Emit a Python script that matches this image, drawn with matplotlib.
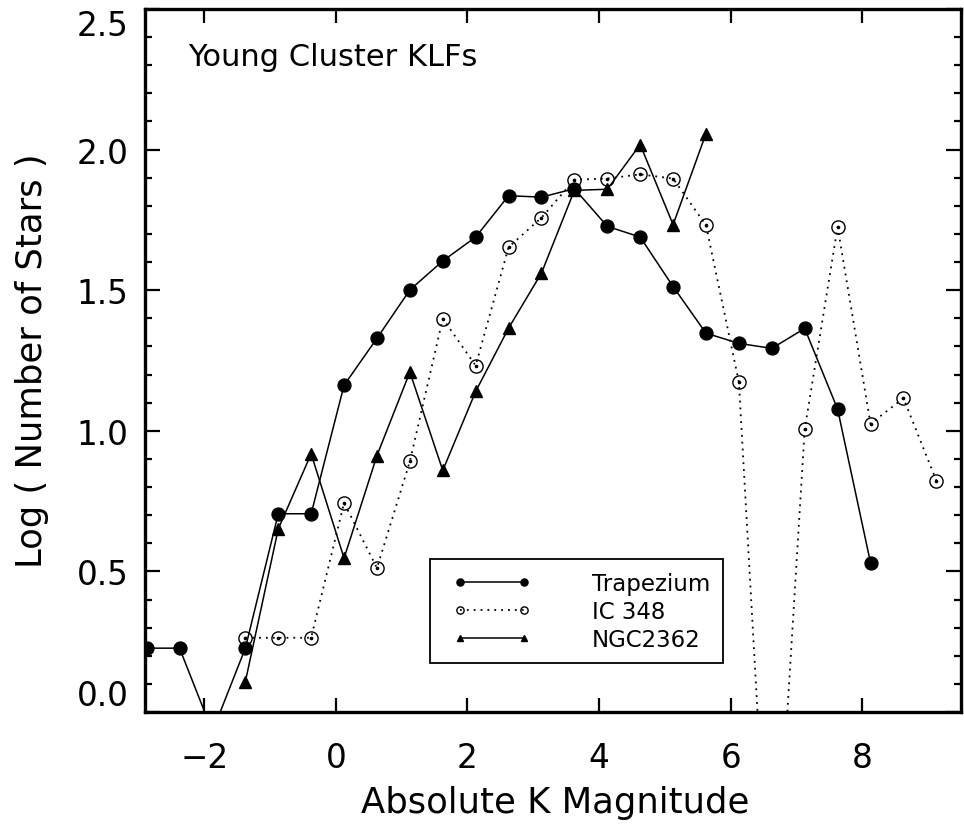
# young cluster KLFs - log counts vs absolute K magnitude
import matplotlib
matplotlib.use("Agg")
import matplotlib.pyplot as plt
from matplotlib.ticker import MultipleLocator
from matplotlib.legend_handler import HandlerLine2D

# Trapezium (filled circles, solid line)
trap_mag = [-2.875, -2.375, -1.875, -1.375, -0.875, -0.375, 0.125, 0.625,
            1.125, 1.625, 2.125, 2.625, 3.125, 3.625, 4.125, 4.625,
            5.125, 5.625, 6.125, 6.625, 7.125, 7.625, 8.125]
trap_log = [0.227, 0.227, -0.07, 0.227, 0.705, 0.705, 1.162, 1.329,
            1.501, 1.604, 1.689, 1.836, 1.831, 1.861, 1.727, 1.689,
            1.513, 1.347, 1.311, 1.293, 1.364, 1.077, 0.531]

# IC 348 (open circles, dotted line)
ic_mag = [-1.375, -0.875, -0.375, 0.125, 0.625, 1.125, 1.625, 2.125,
          2.625, 3.125, 3.625, 4.125, 4.625, 5.125, 5.625, 6.125,
          6.625, 7.125, 7.625, 8.125, 8.625, 9.125]
ic_log = [0.264, 0.264, 0.264, 0.744, 0.512, 0.891, 1.399, 1.232,
          1.653, 1.758, 1.893, 1.897, 1.912, 1.897, 1.731, 1.173,
          -0.9, 1.005, 1.725, 1.025, 1.116, 0.823]

# NGC2362 (filled triangles, solid line)
ngc_mag = [-1.375, -0.875, -0.375, 0.125, 0.625, 1.125, 1.625, 2.125,
           2.625, 3.125, 3.625, 4.125, 4.625, 5.125, 5.625]
ngc_log = [0.108, 0.651, 0.918, 0.547, 0.912, 1.209, 0.859, 1.140,
           1.365, 1.561, 1.855, 1.859, 2.018, 1.733, 2.057]

x_ticks = [-2, 0, 2, 4, 6, 8]
y_ticks = [0.0, 0.5, 1.0, 1.5, 2.0, 2.5]

plt.rcParams["font.family"] = ["DejaVu Sans"]

W, H = 964, 828
fig = plt.figure(figsize=(W / 100, H / 100), dpi=100)
ax = fig.add_axes([145 / W, 115 / H, 816 / W, 703 / H])

l_trap, = ax.plot(trap_mag, trap_log, color="black", lw=1.1, marker="o",
                  ms=9.3, mfc="black", mec="black", label="Trapezium")
l_ic, = ax.plot(ic_mag, ic_log, color="black", lw=1.3, ls=(0, (1, 2.8)),
                marker="o", ms=9.5, mfc="none", mec="black", mew=1.0,
                label="IC 348")
# little dot where the dotted line passes through each open circle
ax.plot(ic_mag, ic_log, ls="none", marker="o", ms=1.6, color="black")
l_ngc, = ax.plot(ngc_mag, ngc_log, color="black", lw=1.1, marker="^",
                 ms=9, mfc="black", mec="black", label="NGC2362")

ax.set_xlim(-2.9, 9.5)
ax.set_ylim(0.0, 2.5)
ax.set_xticks(x_ticks)
ax.set_xticklabels([f"{t:d}" if t >= 0 else f"\u2212{abs(t):d}" for t in x_ticks])
ax.set_yticks(y_ticks)
ax.set_yticklabels([f"{t:.1f}" for t in y_ticks])
ax.yaxis.set_minor_locator(MultipleLocator(0.1))

ax.tick_params(axis="both", which="both", direction="in", top=True,
               right=True, colors="black")
ax.tick_params(axis="x", which="major", length=10, width=1.6, pad=21,
               labelsize=23.5)
ax.tick_params(axis="y", which="major", length=11, width=1.6, pad=12,
               labelsize=23.5)
ax.tick_params(axis="y", which="minor", length=5, width=1.6)
for sp in ax.spines.values():
    sp.set_linewidth(2.4)

# IDL style: keep end labels inside the axis range
yt = ax.yaxis.get_major_ticks()
yt[0].label1.set_va("bottom")
yt[-1].label1.set_va("top")

ax.text(0.053, 0.920, "Young Cluster KLFs", transform=ax.transAxes,
        fontsize=22, ha="left", va="baseline")

fig.text(555 / W, (H - 813) / H, "Absolute K Magnitude", fontsize=25.5,
         ha="center", va="baseline")
fig.text(32 / W, (H - 361) / H, "Log ( Number of Stars )", fontsize=25.5,
         rotation=90, ha="center", va="center")

hmap = {h: HandlerLine2D(numpoints=2, marker_pad=0.75)
        for h in (l_trap, l_ic, l_ngc)}
leg = ax.legend(handles=[l_trap, l_ic, l_ngc], handler_map=hmap,
                loc="upper left", bbox_to_anchor=(430 / W, (H - 560) / H),
                bbox_transform=fig.transFigure, borderaxespad=0,
                fontsize=16.5, markerscale=0.55, handlelength=4.3,
                handletextpad=2.2, borderpad=0.55, labelspacing=0.22,
                fancybox=False, framealpha=1, edgecolor="black")
leg.get_frame().set_linewidth(1.3)

fig.savefig("out.png", dpi=100)
